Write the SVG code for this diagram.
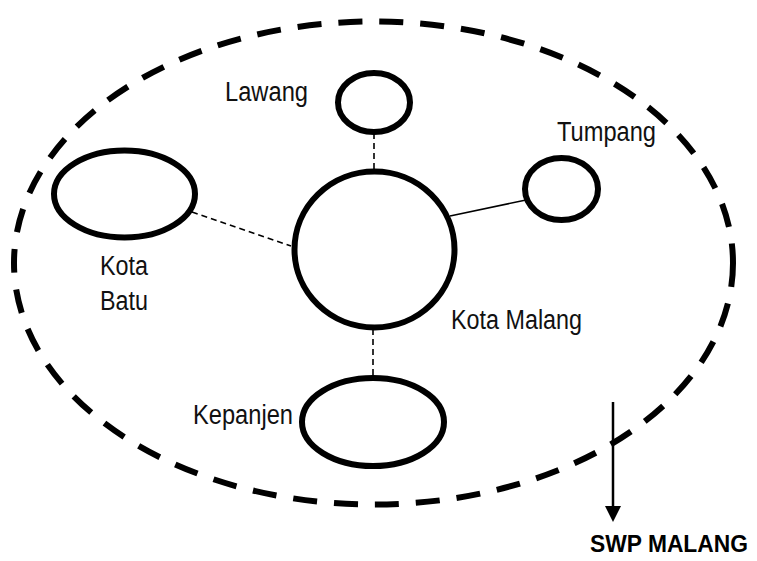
<svg xmlns="http://www.w3.org/2000/svg" width="757" height="561" viewBox="0 0 757 561">
<style>
  .node { fill: none; stroke: #000; stroke-width: 6; }
  .outer { fill: none; stroke: #000; stroke-width: 6; stroke-dasharray: 24 17; }
  .dash { stroke: #000; stroke-width: 1.6; stroke-dasharray: 6 4; fill: none; }
  .solid { stroke: #000; stroke-width: 1.6; fill: none; }
  .lbl { font-family: "Liberation Sans", Arial, sans-serif; font-size: 27px; fill: #111; }
  .bold { font-weight: bold; fill: #000; font-size: 24px; }
</style>
<rect width="757" height="561" fill="#fff"/>
<g id="swp-boundary">
  <ellipse class="outer" cx="373.5" cy="263" rx="359.5" ry="241.5"/>
</g>
<g id="connectors">
  <line class="dash" x1="374" y1="133" x2="374" y2="171"/>
  <line class="dash" x1="192" y1="212" x2="291" y2="246"/>
  <line class="solid" x1="450" y1="216" x2="526" y2="200"/>
  <line class="dash" x1="373" y1="329" x2="373" y2="378"/>
  <path d="M613,402 L613,507" stroke="#000" stroke-width="2.5" fill="none"/>
  <path d="M605,506 L621,506 L613,522 Z" fill="#000"/>
</g>
<g id="kota-malang">
  <ellipse class="node" cx="374.5" cy="249.5" rx="80" ry="78"/>
  <text class="lbl" x="451" y="329" textLength="131" lengthAdjust="spacingAndGlyphs">Kota Malang</text>
</g>
<g id="lawang">
  <ellipse class="node" cx="374" cy="102.5" rx="36" ry="29.5"/>
  <text class="lbl" x="225" y="101" textLength="83" lengthAdjust="spacingAndGlyphs">Lawang</text>
</g>
<g id="tumpang">
  <ellipse class="node" cx="561.5" cy="189" rx="36.5" ry="31"/>
  <text class="lbl" x="557" y="141" textLength="99" lengthAdjust="spacingAndGlyphs">Tumpang</text>
</g>
<g id="kota-batu">
  <ellipse class="node" cx="124.5" cy="194" rx="70.5" ry="43.5"/>
  <text class="lbl" x="100" y="275" textLength="48" lengthAdjust="spacingAndGlyphs">Kota</text>
  <text class="lbl" x="100" y="310" textLength="48" lengthAdjust="spacingAndGlyphs">Batu</text>
</g>
<g id="kepanjen">
  <ellipse class="node" cx="373" cy="422" rx="71" ry="44"/>
  <text class="lbl" x="193" y="424" textLength="100" lengthAdjust="spacingAndGlyphs">Kepanjen</text>
</g>
<g id="swp-malang-label">
  <text class="lbl bold" x="590" y="552" textLength="158" lengthAdjust="spacingAndGlyphs">SWP MALANG</text>
</g>
</svg>
